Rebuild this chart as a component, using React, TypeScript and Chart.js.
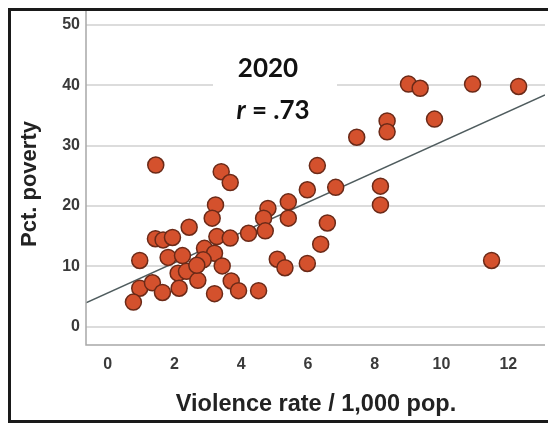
import React, { useEffect, useRef } from "react";
import { Chart, registerables } from "chart.js";

Chart.register(...registerables);

// Violence rate / 1,000 pop. (x) vs Pct. poverty (y)
const violenceRate = [
  1.44, 3.4, 3.67, 3.23, 3.13, 2.44, 1.43, 1.66, 1.94, 0.96, 1.81, 2.24, 2.9, 3.27,
  3.67, 3.2, 2.86, 3.43, 2.11, 2.36, 2.7, 0.96, 1.34, 1.64, 2.14, 3.2, 0.77, 3.7,
  3.92, 4.52, 2.67, 6.28, 5.98, 6.83, 4.8, 5.41, 5.41, 4.67, 4.72, 4.22, 6.58, 6.38,
  5.08, 5.31, 5.98, 9.01, 9.36, 10.93, 12.31, 9.79, 8.37, 8.37, 7.46, 8.17, 8.17, 11.5,
];
const pctPoverty = [
  26.8, 25.7, 23.9, 20.2, 18.0, 16.5, 14.6, 14.4, 14.8, 11.0, 11.5, 11.8, 13.0, 14.95,
  14.7, 12.2, 11.1, 10.1, 8.9, 9.2, 7.7, 6.4, 7.3, 5.7, 6.4, 5.5, 4.1, 7.6,
  6.0, 6.0, 10.2, 26.7, 22.7, 23.1, 19.6, 20.7, 18.0, 18.0, 15.9, 15.5, 17.2, 13.7,
  11.2, 9.8, 10.5, 40.2, 39.5, 40.2, 39.8, 34.4, 34.1, 32.3, 31.4, 23.3, 20.2, 11.0,
];
// Fit line end points
const fitX = [-0.65, 13.1];
const fitY = [4.0, 38.4];

const xTicks = [0, 2, 4, 6, 8, 10, 12];
const yTicks = [0, 10, 20, 30, 40, 50];

const titleYear = "2020";
const rValue = " = .73";
const xTitle = "Violence rate / 1,000 pop.";
const yTitle = "Pct. poverty";

const tickFont = { family: "'Liberation Sans', Arial, sans-serif", size: 16, weight: "bold" as const };

export default function App() {
  const ref = useRef<HTMLCanvasElement | null>(null);

  useEffect(() => {
    if (!ref.current) return;

    const overlay = {
      id: "overlay",
      beforeDatasetsDraw(chart: any) {
        const ctx = chart.ctx;
        ctx.save();
        // white label box
        ctx.fillStyle = "#ffffff";
        ctx.fillRect(213, 45, 124, 82);
        ctx.fillStyle = "#111";
        ctx.textAlign = "center";
        ctx.textBaseline = "middle";
        ctx.font = "bold 26px Lato, 'Open Sans', sans-serif";
        ctx.fillText(titleYear, 268, 69);
        // r = .73 with italic r
        const rFont = "italic bold 26px Lato, 'Open Sans', sans-serif";
        const restFont = "bold 26px Lato, 'Open Sans', sans-serif";
        ctx.font = rFont;
        const wr = ctx.measureText("r").width;
        ctx.font = restFont;
        const wrest = ctx.measureText(rValue).width;
        const startX = 273 - (wr + wrest) / 2;
        ctx.textAlign = "left";
        ctx.font = rFont;
        ctx.fillText("r", startX, 111);
        ctx.font = restFont;
        ctx.fillText(rValue, startX + wr, 111);
        ctx.restore();
      },
      afterDraw(chart: any) {
        const ctx = chart.ctx;
        const area = chart.chartArea;
        ctx.save();
        // axis lines
        ctx.strokeStyle = "#a8a8a8";
        ctx.lineWidth = 1.5;
        ctx.beginPath();
        ctx.moveTo(area.left, area.top);
        ctx.lineTo(area.left, area.bottom);
        ctx.lineTo(area.right, area.bottom);
        ctx.stroke();
        // axis titles
        ctx.fillStyle = "#222";
        ctx.textAlign = "center";
        ctx.textBaseline = "middle";
        ctx.font = "bold 23.5px 'Liberation Sans', Arial, sans-serif";
        ctx.fillText(xTitle, 316, 405);
        ctx.font = "bold 22px 'Liberation Sans', Arial, sans-serif";
        ctx.translate(30, 184);
        ctx.rotate(-Math.PI / 2);
        ctx.fillText(yTitle, 0, 0);
        ctx.restore();
        // outer frame
        ctx.save();
        ctx.strokeStyle = "#1a1a1a";
        ctx.lineWidth = 3;
        ctx.strokeRect(9.5, 9.5, 560, 412);
        ctx.restore();
      },
    };

    const chart = new Chart(ref.current, {
      type: "scatter",
      data: {
        datasets: [
          {
            type: "line",
            data: fitX.map((x, i) => ({ x, y: fitY[i] })),
            borderColor: "#4f5c5e",
            borderWidth: 1.5,
            pointRadius: 0,
            fill: false,
            order: 2,
          } as any,
          {
            data: violenceRate.map((x, i) => ({ x, y: pctPoverty[i] })),
            backgroundColor: "#d4512d",
            borderColor: "#6b2a18",
            borderWidth: 1.5,
            pointRadius: 8,
            order: 1,
          },
        ],
      },
      options: {
        responsive: false,
        animation: false,
        layout: { autoPadding: false, padding: { top: 11, right: 3, left: 0, bottom: 0 } },
        plugins: { legend: { display: false }, tooltip: { enabled: false } },
        scales: {
          x: {
            type: "linear",
            min: -0.65,
            max: 13.1,
            afterFit(scale: any) {
              scale.height = 80;
              scale.paddingLeft = 0;
              scale.paddingRight = 0;
              scale.paddingTop = 0;
              scale.paddingBottom = 0;
            },
            afterBuildTicks(scale: any) {
              scale.ticks = xTicks.map((v) => ({ value: v }));
            },
            grid: { display: false, drawTicks: false },
            border: { display: false },
            ticks: {
              padding: 10,
              color: "#3a3a3a",
              font: tickFont,
            },
          },
          y: {
            type: "linear",
            min: -3,
            max: 52.3,
            afterFit(scale: any) {
              scale.width = 86;
              scale.paddingLeft = 0;
              scale.paddingRight = 0;
              scale.paddingTop = 0;
              scale.paddingBottom = 0;
            },
            afterBuildTicks(scale: any) {
              scale.ticks = yTicks.map((v) => ({ value: v }));
            },
            grid: { color: "#dcdcdc", lineWidth: 2, drawTicks: false },
            border: { display: false },
            ticks: {
              padding: 6,
              color: "#3a3a3a",
              font: tickFont,
            },
          },
        },
      },
      plugins: [overlay],
    });

    return () => chart.destroy();
  }, []);

  return (
    <div style={{ position: "fixed", left: 0, top: 0, width: 548, height: 425, overflow: "hidden", background: "#fff" }}>
      <canvas ref={ref} width={548} height={425} style={{ display: "block" }} />
    </div>
  );
}
